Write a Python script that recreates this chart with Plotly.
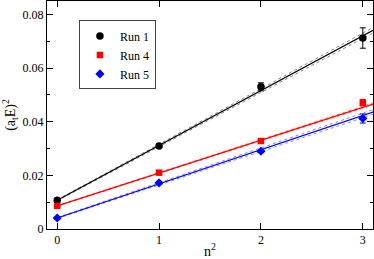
import plotly.graph_objects as go

n2 = [0, 1, 2, 3]
run1 = [0.0107, 0.0309, 0.0530, 0.0712]
run1_err = [0.0004, 0.0005, 0.0015, 0.0038]
run4 = [0.0086, 0.0210, 0.0328, 0.0471]
run4_err = [0.0003, 0.0004, 0.0005, 0.0012]
run5 = [0.0041, 0.0172, 0.0290, 0.0412]
run5_err = [0.0003, 0.0004, 0.0005, 0.0017]

# linear fits: intercept, slope, band half-width at x=0 and x=3.1
fit_x = [0, 3.1]
fit1 = (0.0107, 0.02045, 0.0002, 0.0010)
fit4 = (0.0086, 0.01225, 0.0001, 0.0004)
fit5 = (0.0041, 0.01274, 0.0002, 0.0009)

colors = ["black", "red", "blue"]
names = ["Run 1", "Run 4", "Run 5"]
symbols = ["circle", "square", "diamond"]
sizes = [7.5, 6.5, 7]
ys = [run1, run4, run5]
errs = [run1_err, run4_err, run5_err]
fits = [fit1, fit4, fit5]

SERIF = "Liberation Serif"

fig = go.Figure()
for c, f in zip(colors, fits):
    b, m, w0, w1 = f
    yc = [b + m * x for x in fit_x]
    fig.add_trace(go.Scatter(x=fit_x, y=yc, mode="lines", line=dict(color=c, width=1.3),
                             showlegend=False, hoverinfo="skip"))
    for s in (1, -1):
        yb = [b + m * fit_x[0] + s * w0, b + m * fit_x[1] + s * w1]
        fig.add_trace(go.Scatter(x=fit_x, y=yb, mode="lines",
                                 line=dict(color=c, width=0.8, dash="dot"),
                                 opacity=0.6, showlegend=False, hoverinfo="skip"))

for c, nm, sym, sz, y, e in zip(colors, names, symbols, sizes, ys, errs):
    fig.add_trace(go.Scatter(x=n2, y=y, mode="markers", name=nm,
                             marker=dict(color=c, symbol=sym, size=sz),
                             error_y=dict(type="data", array=e, color=c, thickness=1, width=3)))

axis_common = dict(showline=True, linecolor="black", linewidth=1, mirror="ticks",
                   ticks="inside", tickcolor="black", showgrid=False, zeroline=False,
                   automargin=False,
                   tickfont=dict(family=SERIF, size=12, color="black"))

fig.update_layout(
    width=374, height=259,
    margin=dict(l=47, r=1, t=1, b=30),
    paper_bgcolor="white", plot_bgcolor="white",
    font=dict(family=SERIF, size=12, color="black"),
    xaxis=dict(range=[-0.1, 3.1], tickvals=[0, 1, 2, 3], ticklen=6,
               title=dict(text="n<sup>2</sup>", standoff=5, font=dict(family=SERIF, size=14)),
               **axis_common),
    yaxis=dict(range=[0, 0.085], tickvals=[0, 0.02, 0.04, 0.06, 0.08],
               ticktext=["0", "0.02", "0.04", "0.06", "0.08"], ticklen=6,
               minor=dict(ticks="inside", ticklen=3, tickcolor="black", dtick=0.01),
               title=dict(text="(a<sub>t</sub>E)<sup>2</sup>", standoff=3, font=dict(family=SERIF, size=14)),
               **axis_common),
    legend=dict(x=0.098, y=0.915, xanchor="left", yanchor="top",
                bordercolor="#444", borderwidth=1, bgcolor="white",
                font=dict(family=SERIF, size=12),
                tracegroupgap=0, itemwidth=30),
)

fig.write_html("out.html", config={"displayModeBar": False},
               post_script="document.body.style.margin='0';document.body.style.padding='0';")
